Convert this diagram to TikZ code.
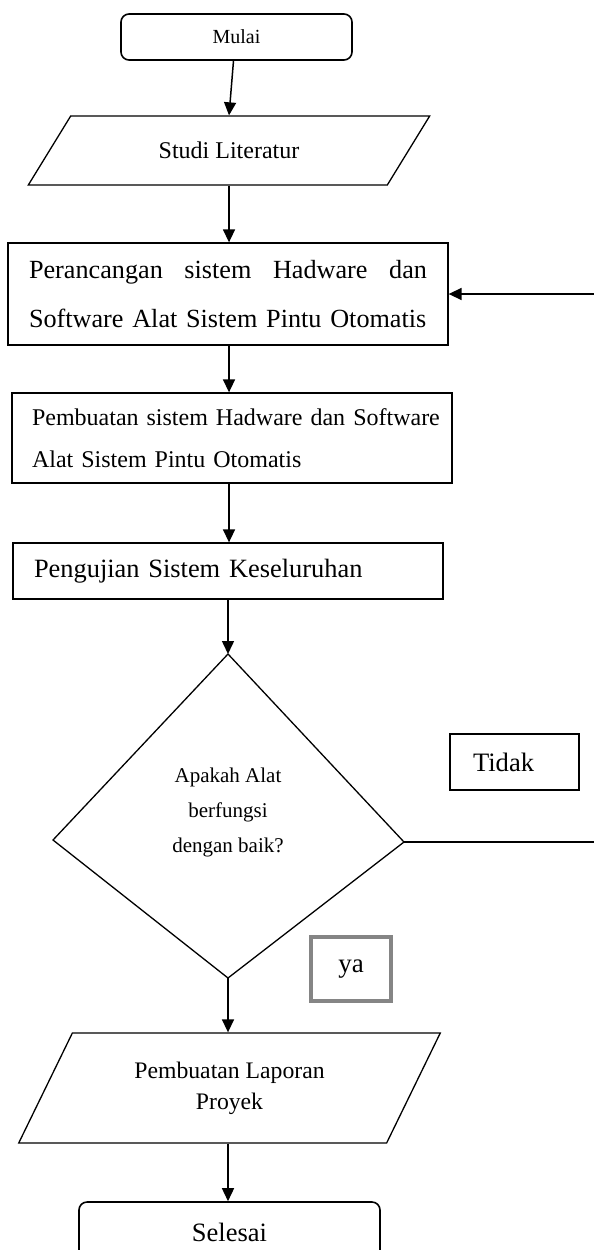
\documentclass[tikz,border=0pt]{standalone}
\usepackage{fontspec}
\setmainfont{Liberation Serif}
\usetikzlibrary{arrows.meta, shapes.geometric, calc}
\definecolor{MGray}{HTML}{858585}
\tikzset{
  term/.style={
    rectangle, rounded corners=8pt, draw, line width=1.6pt,
    inner sep=0pt, align=center,
  },
  proc/.style={
    rectangle, draw, line width=1.3pt,
    inner sep=0pt, align=left,
  },
  io/.style args={#1/#2}{
    trapezium, trapezium left angle=#1, trapezium right angle=#2,
    trapezium stretches=true, draw, line width=1.3pt,
    inner sep=0pt, align=center,
  },
  tag/.style={
    rectangle, draw=#1, inner sep=0pt, align=left,
  },
  arr/.style={
    -{Triangle[length=13pt,width=12pt]}, line width=1.5pt,
  },
}

\begin{document}
\begin{tikzpicture}[x=1pt,y=-1pt]
  \useasboundingbox (0,0) rectangle (594,1250);

  \node[term, minimum width=231pt, minimum height=46pt,
        font=\fontsize{20}{24}\selectfont] (mulai) at (236.5,37) {Mulai};
  \node[io=41.9/138.1, minimum width=402pt, minimum height=69pt,
        font=\fontsize{24}{28}\selectfont] (studi) at (229,150.5) {Studi Literatur};
  \node[proc, minimum width=440pt, minimum height=102pt, text width=398pt,
        font=\fontsize{26.2}{49}\selectfont] (rancang) at (228,294)
    {\hbox to 398pt{Perancangan\hfill sistem\hfill Hadware\hfill dan}\\
     \mbox{Software Alat Sistem Pintu Otomatis}};
  \node[proc, minimum width=440pt, minimum height=90pt, text width=400pt,
        font=\fontsize{24}{42}\selectfont] (buat) at (232,438)
    {\mbox{Pembuatan sistem Hadware dan Software}\\
     \mbox{Alat Sistem Pintu Otomatis}};
  \node[proc, minimum width=430pt, minimum height=56pt, text width=388pt,
        font=\fontsize{26.4}{30}\selectfont] (uji) at (228,571)
    {Pengujian Sistem Keseluruhan};

  % keputusan
  \coordinate (dtop) at (228,654);
  \coordinate (dlft) at (53,840);
  \coordinate (drgt) at (404,842);
  \coordinate (dbot) at (228,978);
  \draw[line width=1.3pt] (dtop) -- (drgt) -- (dbot) -- (dlft) -- cycle;
  \node[align=center, inner sep=0pt, font=\fontsize{21}{35}\selectfont]
    (tanya) at (228,812) {Apakah Alat\\berfungsi\\dengan baik?};

  \node[tag=black, line width=1.3pt, minimum width=129pt, minimum height=56pt,
        text width=83pt, font=\fontsize{26.6}{30}\selectfont] (tidak) at (514.5,762) {Tidak};
  \node[tag=MGray, line width=4pt, minimum width=80pt, minimum height=64pt,
        align=center, font=\fontsize{27}{30}\selectfont] (ya) at (351,969) {ya};

  \node[io=58.3/121.7, minimum width=423pt, minimum height=110pt,
        font=\fontsize{23.7}{31}\selectfont] (lapor) at (229.5,1088)
    {Pembuatan Laporan\\Proyek};
  \node[term, minimum width=301pt, minimum height=60pt,
        font=\fontsize{26.5}{30}\selectfont] (selesai) at (229.5,1232) {Selesai};

  \coordinate (balik) at (598,842);

  \draw[arr] ([xshift=-3pt]mulai.south) -- (studi.north);
  \draw[arr] (studi.south) -- (studi.south |- rancang.north);
  \draw[arr] (rancang.south -| studi.south) -- (studi.south |- buat.north);
  \draw[arr] (buat.south -| studi.south) -- (studi.south |- uji.north);
  \draw[arr] (uji.south -| dtop) -- (dtop);
  \draw[arr] (dbot) -- (dbot |- lapor.north);
  \draw[arr] (lapor.south -| dbot) -- (dbot |- selesai.north);
  \draw[arr] (drgt) -- (balik) |- (rancang.east);
\end{tikzpicture}
\end{document}
